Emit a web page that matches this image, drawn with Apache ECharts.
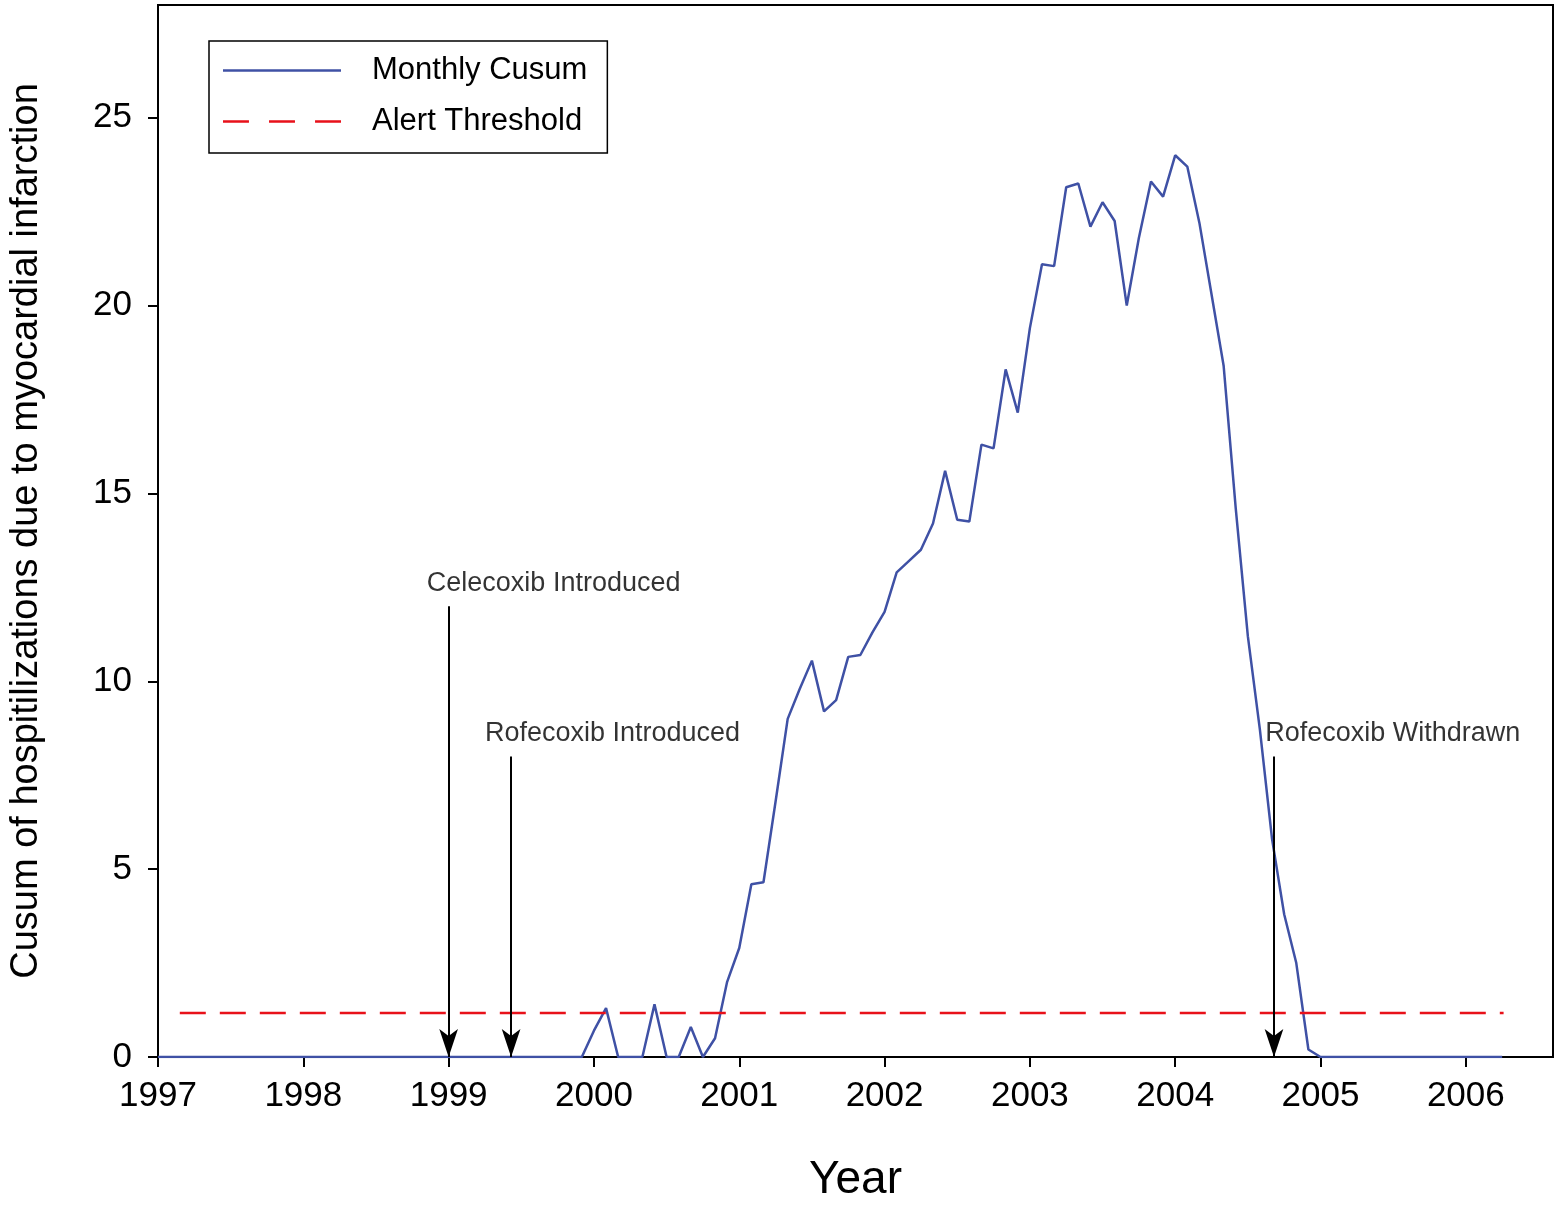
<!DOCTYPE html>
<html>
<head>
<meta charset="UTF-8">
<title>Cusum chart</title>
<style>
html, body { margin: 0; padding: 0; width: 100%; height: 100%; background: #fff; }
#main { width: 1557px; height: 1208px; }
</style>
<script src="https://cdn.jsdelivr.net/npm/echarts@6/dist/echarts.min.js"></script>
</head>
<body>
<div id="main"></div>
<script type="text/javascript">
// monthly cusum, Jan 1997 onwards
var startYear = 1997;
var cusum = [
    0, 0, 0, 0, 0, 0, 0, 0, 0, 0, 0, 0,
    0, 0, 0, 0, 0, 0, 0, 0, 0, 0, 0, 0,
    0, 0, 0, 0, 0, 0, 0, 0, 0, 0, 0, 0,
    0.7, 1.3, 0, 0, 0, 1.4, 0, 0, 0.8, 0, 0.5, 2.0,
    2.9, 4.6, 4.65, 6.8, 9.0, 9.8, 10.55, 9.2, 9.5, 10.65, 10.7, 11.3,
    11.85, 12.9, 13.2, 13.5, 14.2, 15.6, 14.3, 14.25, 16.3, 16.2, 18.3, 17.15,
    19.4, 21.1, 21.05, 23.15, 23.25, 22.1, 22.75, 22.25, 20.0, 21.8, 23.3, 22.9,
    24.0, 23.7, 22.2, 20.3, 18.4, 14.6, 11.2, 8.7, 5.8, 3.8, 2.5, 0.2,
    0, 0, 0, 0, 0, 0, 0, 0, 0, 0, 0, 0,
    0, 0, 0, 0
];
var threshold = 1.17;
var thresholdRange = [1997.15, 2006.26];
// events: [year, arrow top, label text, label x, label y]
var events = [
    [1999.0, 12.0, 'Celecoxib Introduced', 1998.85, 12.6],
    [1999.43, 8.0, 'Rofecoxib Introduced', 1999.25, 8.6],
    [2004.68, 8.0, 'Rofecoxib Withdrawn', 2004.62, 8.6]
];

var font = 'Liberation Sans, Arial, sans-serif';
var cusumData = cusum.map(function (v, i) { return [startYear + i / 12, v]; });

var chart = echarts.init(document.getElementById('main'));
chart.setOption({
    animation: false,
    grid: { left: 153, right: 4, top: 5, bottom: 136, show: true, borderColor: '#000', borderWidth: 2 },
    legend: {
        left: 209, top: 41, orient: 'vertical',
        padding: [14, 20, 16, 14], itemGap: 20,
        borderColor: '#000', borderWidth: 1.5,
        itemWidth: 118, itemHeight: 14,
        textStyle: { fontFamily: font, fontSize: 31, color: '#000', padding: [0, 0, 0, 26] },
        data: [
            { name: 'Monthly Cusum', icon: 'path://M0,0L100,0L100,2L0,2Z' },
            { name: 'Alert Threshold', icon: 'path://M0,0L22,0L22,2L0,2ZM39,0L61,0L61,2L39,2ZM78,0L100,0L100,2L78,2Z' }
        ]
    },
    xAxis: {
        type: 'value', min: 1997, max: 2006.6, interval: 1,
        name: 'Year', nameLocation: 'middle', nameGap: 100,
        nameTextStyle: { fontFamily: font, fontSize: 46, color: '#000' },
        axisLine: { lineStyle: { color: '#000', width: 2 } },
        axisTick: { length: 10, lineStyle: { color: '#000', width: 2 } },
        axisLabel: { fontFamily: font, fontSize: 35, color: '#000', margin: 22, showMaxLabel: false,
            formatter: function (v) { return String(v); } },
        splitLine: { show: false }
    },
    yAxis: {
        type: 'value', min: 0, max: 28, interval: 5,
        name: 'Cusum of hospitilizations due to myocardial infarction',
        nameLocation: 'middle', nameGap: 112,
        nameTextStyle: { fontFamily: font, fontSize: 38, color: '#000' },
        axisLine: { lineStyle: { color: '#000', width: 2 } },
        axisTick: { length: 10, lineStyle: { color: '#000', width: 2 } },
        axisLabel: { fontFamily: font, fontSize: 35, color: '#000', margin: 26, showMaxLabel: false },
        splitLine: { show: false }
    },
    series: [
        {
            name: 'Monthly Cusum', type: 'line', data: cusumData,
            showSymbol: false, lineStyle: { color: '#3f51a5', width: 2.5 },
            itemStyle: { color: '#3f51a5' },
            markLine: {
                silent: true, symbol: ['none', 'arrow'], symbolSize: [14, 28],
                lineStyle: { color: '#000', width: 2, type: 'solid' },
                label: { show: false },
                data: events.map(function (e) {
                    return [{ coord: [e[0], e[1]] }, { coord: [e[0], 0] }];
                })
            }
        },
        {
            name: 'Alert Threshold', type: 'line',
            data: [[thresholdRange[0], threshold], [thresholdRange[1], threshold]],
            showSymbol: false,
            lineStyle: { color: '#e8111a', width: 2.5, type: [26, 14] },
            itemStyle: { color: '#e8111a' }
        },
        {
            name: 'labels', type: 'scatter', symbolSize: 0,
            data: events.map(function (e) { return { value: [e[3], e[4]], name: e[2] }; }),
            label: {
                show: true, position: 'right', distance: 0,
                formatter: '{b}', fontFamily: font, fontSize: 27, color: '#000'
            }
        }
    ]
});
</script>
</body>
</html>
